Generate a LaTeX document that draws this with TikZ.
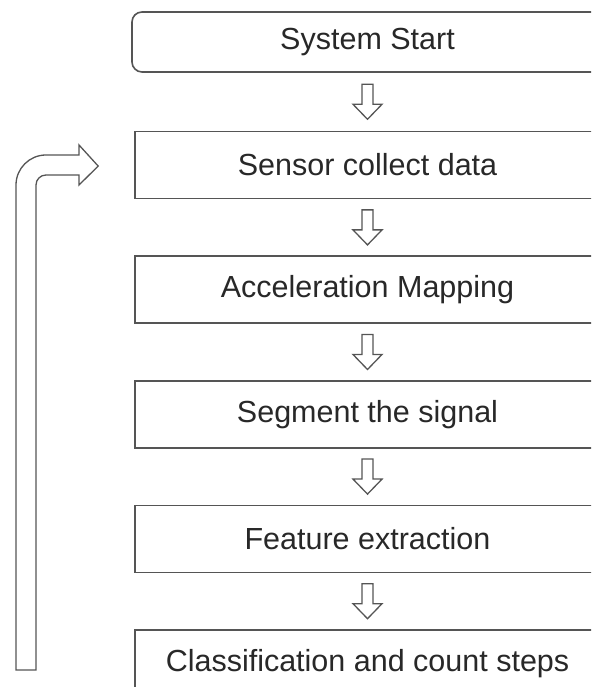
\documentclass[tikz,border=0pt]{standalone}
\usepackage{fontspec}
\setmainfont{Liberation Sans}
\usepackage{xcolor}
\usepackage{tikz}
\usetikzlibrary{positioning,calc}

\definecolor{linegray}{RGB}{85,85,85}
\definecolor{textgray}{RGB}{40,40,40}

\tikzset{
  downarr/.pic={\draw[blockline] (-5.5,17.5) -- (-5.5,-2.5) -- (-14.5,-2.5) -- (0,-17.5) -- (14.5,-2.5) -- (5.5,-2.5) -- (5.5,17.5) -- cycle;}
}

\begin{document}
\begin{tikzpicture}[x=1pt, y=1pt,
  every node/.style={font=\fontsize{30.5}{36}\selectfont, text=textgray},
  box/.style={draw=linegray, line width=1.6pt, minimum height=67pt, minimum width=465pt, fill=white, inner sep=0pt},
  startbox/.style={box, rounded corners=10pt, minimum height=60pt, minimum width=471pt},
  blockline/.style={draw=linegray, line width=1.3pt, fill=white, line join=miter}]
\useasboundingbox (0,0) rectangle (591,687);
\clip (0,0) rectangle (591,687);
\node[startbox] (start) at (367.5,645) {System Start};
\node[box, below=58pt of start] (sensor) {Sensor collect data};
\node[box, below=56pt of sensor] (accel) {Acceleration Mapping};
\node[box, below=56pt of accel] (segment) {Segment the signal};
\node[box, below=56pt of segment] (feature) {Feature extraction};
\node[box, below=56pt of feature] (classify) {Classification and count steps};
% block arrows between the steps
\path ($(start.south)!0.5!(sensor.north)$) pic {downarr};
\path ($(sensor.south)!0.5!(accel.north)$) pic {downarr};
\path ($(accel.south)!0.5!(segment.north)$) pic {downarr};
\path ($(segment.south)!0.5!(feature.north)$) pic {downarr};
\path ($(feature.south)!0.5!(classify.north)$) pic {downarr};
% loop back to the sensor
\coordinate (looptip) at ($(sensor.west)+(-36,-1)$);
\draw[blockline] (16,17) -- (16,502) arc[start angle=180, end angle=90, radius=30]
  -- (79,532) -- (79,542) -- (looptip) -- (79,502) -- (79,512) -- (46,512)
  arc[start angle=90, end angle=180, radius=10] -- (36,17) -- cycle;
\end{tikzpicture}
\end{document}
